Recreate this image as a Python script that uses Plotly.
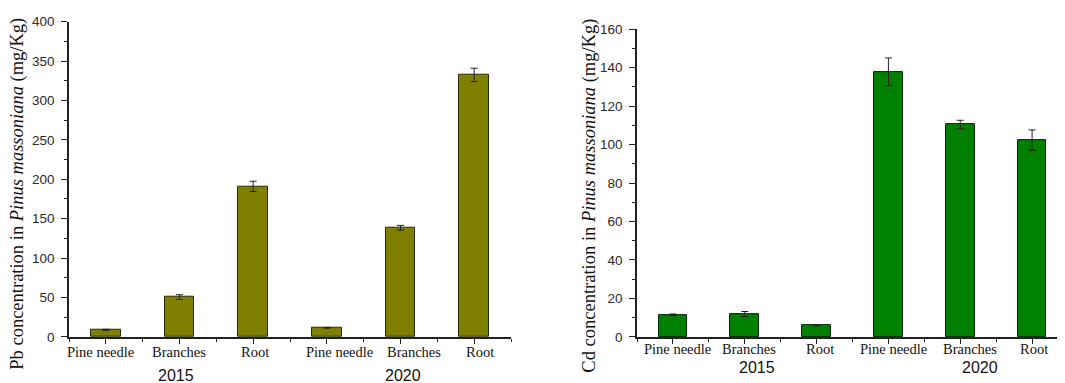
import plotly.graph_objects as go

categories = ["Pine needle", "Branches", "Root", "Pine needle", "Branches", "Root"]
years = ["2015", "2020"]
pb_values = [9, 50.5, 191, 11.5, 138.5, 332.5]
pb_errors = [0.6, 3, 6.5, 0.5, 3, 8.5]
cd_values = [11.5, 11.9, 6.0, 137.8, 110.4, 102.3]
cd_errors = [0.4, 1.3, 0.3, 7.2, 2.2, 5.3]

W, H = 1065, 383
xpos = list(range(len(categories)))

fig = go.Figure()

fig.add_trace(go.Bar(
    x=xpos, y=pb_values, width=0.4, xaxis="x", yaxis="y",
    marker=dict(color="#808000", line=dict(color="#2a2a00", width=1)),
    error_y=dict(type="data", array=pb_errors, color="#222222", thickness=1, width=3.5),
    showlegend=False,
))
fig.add_trace(go.Bar(
    x=xpos, y=cd_values, width=0.4, xaxis="x2", yaxis="y2",
    marker=dict(color="#008000", line=dict(color="#002a00", width=1)),
    error_y=dict(type="data", array=cd_errors, color="#222222", thickness=1, width=3.5),
    showlegend=False,
))

tickfont_cat = dict(family="Liberation Serif", size=14.5, color="#111111")
tickfont_num = dict(family="Liberation Sans", size=13.5, color="#2a2a2a")

def xaxis_cfg(domain, anchor):
    return dict(
        domain=domain, anchor=anchor, range=[-0.5, 5.5],
        tickmode="array", tickvals=xpos, showticklabels=False,
        ticks="outside", ticklen=5, tickwidth=1, tickcolor="#222",
        minor=dict(tickmode="array", tickvals=[i - 0.5 for i in range(7)],
                   ticks="outside", ticklen=3, tickwidth=1, tickcolor="#222"),
        showline=True, linecolor="#222", linewidth=1.5,
        showgrid=False, zeroline=False,
        fixedrange=True,
    )

def yaxis_cfg(domain, anchor, rng, dtick):
    return dict(
        domain=domain, anchor=anchor, range=rng,
        tick0=0, dtick=dtick,
        ticks="outside", ticklen=6, tickwidth=1, tickcolor="#222",
        minor=dict(dtick=dtick / 2, ticks="outside", ticklen=3, tickwidth=1, tickcolor="#222"),
        showline=True, linecolor="#222", linewidth=1.5,
        showgrid=False, zeroline=False, tickfont=tickfont_num,
        ticklabelstandoff=4,
        fixedrange=True,
    )

bottom = 1 - 335 / H
fig.update_layout(
    width=W, height=H,
    margin=dict(l=0, r=0, t=0, b=0),
    paper_bgcolor="white", plot_bgcolor="white",
    bargap=0,
    xaxis=xaxis_cfg([61 / W, 503 / W], "y"),
    yaxis=yaxis_cfg([bottom, 1 - 7 / H], "x", [0, 400], 50),
    xaxis2=xaxis_cfg([629 / W, 1060 / W], "y2"),
    yaxis2=yaxis_cfg([bottom, 1 - 14.7 / H], "x2", [0, 160], 20),
)

# category tick labels (as annotations to match the tight placement)
label_shifts = {"x": [-5, -1, 2, 13, 13, 6], "x2": [5, 4, 3, 5, 10, 2]}
label_y = {"x": 351, "x2": 348}
for xa in ("x", "x2"):
    for i, (cat, sh) in enumerate(zip(categories, label_shifts[xa])):
        fig.add_annotation(
            x=xpos[i], y=1 - label_y[xa] / H, xref=xa, yref="paper",
            text=cat, showarrow=False, font=tickfont_cat,
            xanchor="center", yanchor="middle", xshift=sh,
        )

title_font = dict(family="Liberation Serif", size=18.5, color="#111111")
fig.add_annotation(
    x=10 / W, y=1 - 186 / H, xref="paper", yref="paper",
    text="Pb concentration in <i>Pinus massoniana</i> (mg/Kg)",
    textangle=-90, showarrow=False, font=title_font,
    xanchor="center", yanchor="middle",
)
fig.add_annotation(
    x=582 / W, y=1 - 188 / H, xref="paper", yref="paper",
    text="Cd concentration in <i>Pinus massoniana</i> (mg/Kg)",
    textangle=-90, showarrow=False, font=title_font,
    xanchor="center", yanchor="middle",
)

year_font = dict(family="Liberation Sans", size=16, color="#111111")
for ypix, offsets in ((375, [168, 395]), (367, [749, 972])):
    for yr, px in zip(years, offsets):
        fig.add_annotation(
            x=px / W, y=1 - ypix / H, xref="paper", yref="paper",
            text=yr, showarrow=False, font=year_font,
            xanchor="center", yanchor="middle",
        )

fig.write_html("out.html")
